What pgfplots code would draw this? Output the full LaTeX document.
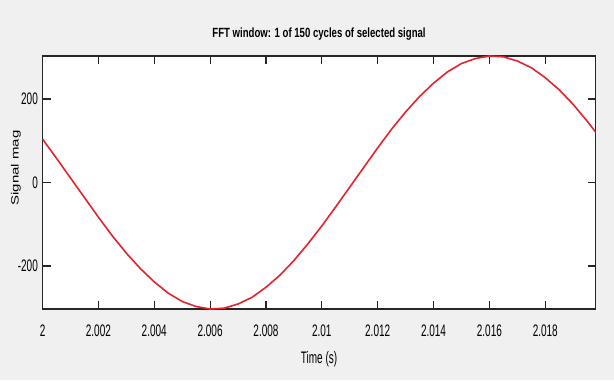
\documentclass[border=0pt]{standalone}
\usepackage{fontspec}
\setmainfont{Liberation Sans}
\newfontfamily\narrowfont[FakeStretch=0.6]{Liberation Sans}
\newfontfamily\titlefont[FakeStretch=0.72]{Liberation Sans}
\usepackage{graphicx}
\usepackage{pgfplots}
\pgfplotsset{compat=1.18}
\definecolor{figbg}{RGB}{240,240,240}
\definecolor{sigred}{RGB}{230,35,45}
\definecolor{axisgray}{RGB}{38,38,38}

\begin{document}
\begin{tikzpicture}
% figure background, 614 x 380 px at 0.75pt per px
\fill[figbg] (0pt,0pt) rectangle (460.5pt,285pt);
\begin{axis}[
  at={(31.9pt,53.25pt)}, anchor=south west,
  width=414.75pt, height=189.75pt, scale only axis,
  xmin=2, xmax=2.0198, ymin=-303, ymax=303,
  scaled x ticks=false, scaled y ticks=false,
  xtick={2,2.002,2.004,2.006,2.008,2.01,2.012,2.014,2.016,2.018},
  xticklabels={2,2.002,2.004,2.006,2.008,2.01,2.012,2.014,2.016,2.018},
  ytick={-200,0,200},
  yticklabels={-200,0,200},
  tick align=inside, major tick length=6pt,
  tick style={axisgray, line width=0.8pt},
  axis line style={axisgray, line width=0.8pt},
  axis background/.style={fill=white},
  ticklabel style={font=\narrowfont\fontsize{12.5}{13}\selectfont},
  xticklabel style={yshift=-8.5pt},
  title={FFT window: 1 of 150 cycles of selected signal},
  title style={font=\titlefont\bfseries\fontsize{10}{12}\selectfont,
    at={(0.5,1)}, anchor=center, yshift=10.5pt},
  xlabel={Time (s)},
  xlabel style={font=\narrowfont\fontsize{12.5}{13}\selectfont,
    at={(axis description cs:0.5,-0.198)}, anchor=center},
  ylabel={\scalebox{1}[0.7]{Signal mag}},
  ylabel style={font=\fontsize{11.25}{12}\selectfont,
    at={(axis description cs:-0.048,0.557)}, anchor=center},
]
\addplot[sigred, line width=1.2pt] coordinates {
  (2.0000,104) (2.0005,58) (2.0010,11) (2.0015,-36) (2.0020,-83)
  (2.0025,-128) (2.0030,-169) (2.0035,-206) (2.0040,-238) (2.0045,-265)
  (2.0050,-285) (2.0055,-297) (2.0060,-303) (2.0065,-301) (2.0070,-291)
  (2.0075,-275) (2.0080,-251) (2.0085,-222) (2.0090,-187) (2.0095,-147)
  (2.0100,-104) (2.0105,-58) (2.0110,-11) (2.0115,36) (2.0120,83)
  (2.0125,128) (2.0130,169) (2.0135,206) (2.0140,238) (2.0145,265)
  (2.0150,285) (2.0155,297) (2.0160,303) (2.0165,301) (2.0170,291)
  (2.0175,275) (2.0180,251) (2.0185,222) (2.0190,187) (2.0195,147)
  (2.0200,104)
};
\end{axis}
\end{tikzpicture}
\end{document}
